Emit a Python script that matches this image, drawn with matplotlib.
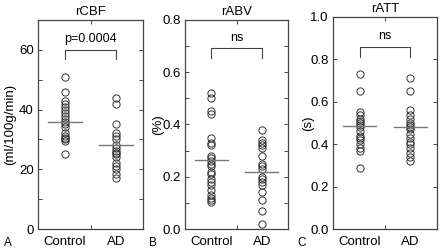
import matplotlib
matplotlib.use("Agg")
import matplotlib.pyplot as plt
from matplotlib.ticker import MultipleLocator, FixedLocator

plt.rcParams['font.family'] = ['Liberation Sans', 'DejaVu Sans']

groups = ["Control", "AD"]

cbf_control = [51, 46, 43, 42, 41, 40, 39, 38, 37, 36, 35, 34, 32, 31, 30.5, 30, 29.5, 25]
cbf_ad = [44, 42, 35, 32, 31, 30, 28, 27, 26, 25.5, 25, 24, 22, 21, 20, 18.5, 17]
cbf_means = [36, 28]

abv_control = [0.52, 0.50, 0.45, 0.44, 0.35, 0.33, 0.32, 0.28, 0.27, 0.26, 0.25, 0.24,
               0.22, 0.21, 0.19, 0.18, 0.17, 0.15, 0.13, 0.12, 0.11, 0.105]
abv_ad = [0.38, 0.34, 0.33, 0.32, 0.31, 0.28, 0.25, 0.24, 0.23, 0.20, 0.19, 0.18,
          0.17, 0.14, 0.11, 0.07, 0.02]
abv_means = [0.265, 0.22]

att_control = [0.73, 0.65, 0.55, 0.54, 0.52, 0.51, 0.50, 0.49, 0.48, 0.46, 0.44, 0.43,
               0.42, 0.40, 0.38, 0.37, 0.29]
att_ad = [0.71, 0.65, 0.56, 0.54, 0.52, 0.50, 0.49, 0.48, 0.47, 0.45, 0.43, 0.41,
          0.40, 0.38, 0.36, 0.34, 0.32]
att_means = [0.485, 0.48]

W, H = 440, 248
fig = plt.figure(figsize=(W / 100, H / 100), dpi=100)

frame_col = "#444444"

def px_axes(left, right, top, bottom):
    return fig.add_axes([left / W, 1 - bottom / H, (right - left) / W, (bottom - top) / H])

panels = [
    dict(box=(38, 143, 20, 229), ctrl=cbf_control, ad=cbf_ad, means=cbf_means,
         ylim=(0, 70), major=20, minor=10, fmt="{:.0f}", title="rCBF",
         ylabel="(ml/100g/min)", ylabel_x=10, bracket=(60, 57), btxt="p=0.0004", btxt_y=61.5,
         letter="A", letter_x=4),
    dict(box=(185, 288, 20, 229), ctrl=abv_control, ad=abv_ad, means=abv_means,
         ylim=(0, 0.8), major=0.2, minor=0.1, fmt="{:.1f}", title="rABV",
         ylabel="(%)", ylabel_x=158, bracket=(0.693, 0.655), btxt="ns", btxt_y=0.71,
         letter="B", letter_x=149),
    dict(box=(333, 437, 17, 229), ctrl=att_control, ad=att_ad, means=att_means,
         ylim=(0, 1.0), major=0.2, minor=0.2, fmt="{:.1f}", title="rATT",
         ylabel="(s)", ylabel_x=308, bracket=(0.858, 0.81), btxt="ns", btxt_y=0.88,
         letter="C", letter_x=297),
]

for p in panels:
    l, r, t, b = p["box"]
    ax = px_axes(l, r, t, b)
    ax.set_xlim(0.48, 2.52)
    ax.set_ylim(*p["ylim"])
    for xi, vals in zip([1, 2], [p["ctrl"], p["ad"]]):
        ax.plot([xi] * len(vals), vals, linestyle="none", marker="o", markersize=5.2,
                markerfacecolor="none", markeredgecolor="#333333", markeredgewidth=0.7,
                zorder=3)
    for xi, m in zip([1, 2], p["means"]):
        ax.plot([xi - 0.33, xi + 0.33], [m, m], color="#777777", lw=1.0, zorder=4)
    top, leg = p["bracket"]
    ax.plot([1, 1, 2, 2], [leg, top, top, leg], color="#444444", lw=0.8)
    ax.text(1.5, p["btxt_y"], p["btxt"], ha="center", va="bottom", fontsize=9)
    ax.set_title(p["title"], fontsize=9.5, pad=3.5)

    ax.yaxis.set_major_locator(MultipleLocator(p["major"]))
    ax.yaxis.set_minor_locator(MultipleLocator(p["minor"]))
    ticks = [v for v in ax.get_yticks() if p["ylim"][0] - 1e-9 <= v <= p["ylim"][1] + 1e-9]
    ax.set_yticks(ticks)
    ax.set_yticklabels([p["fmt"].format(v) for v in ticks])
    ax.tick_params(axis="y", which="both", direction="in", left=True, right=True,
                   length=3, width=0.7, color=frame_col, labelsize=9.5, pad=3)

    ax.set_xticks([1, 2])
    ax.set_xticklabels(groups)
    ax.xaxis.set_minor_locator(FixedLocator([1.5]))
    ax.tick_params(axis="x", which="major", length=0, labelsize=9.5, pad=5)
    ax.tick_params(axis="x", which="minor", direction="in", top=True, bottom=True,
                   length=3, width=0.7, color=frame_col)
    for s in ax.spines.values():
        s.set_color(frame_col)
        s.set_linewidth(0.9)

    fig.text(p["ylabel_x"] / W, 1 - ((t + b) / 2) / H, p["ylabel"], rotation=90,
             ha="center", va="center", fontsize=9.5)
    fig.text(p["letter_x"] / W, 1 - 243 / H, p["letter"], ha="left", va="center", fontsize=8.5)

fig.savefig("out.png", dpi=100)
